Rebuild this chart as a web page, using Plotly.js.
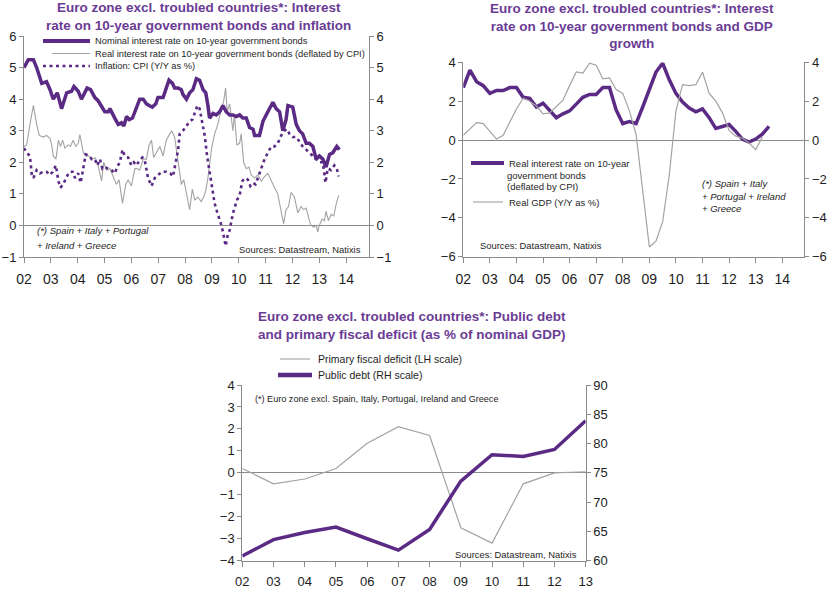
<!DOCTYPE html>
<html>
<head>
<meta charset="utf-8">
<script src="https://cdn.plot.ly/plotly-3.0.1.min.js"></script>
<style>html,body{margin:0;padding:0;background:#fff;}#chart{width:834px;height:610px;}</style>
</head>
<body>
<div id="chart"></div>
<script>
// ---------- Chart 1: nominal rate, real rate, inflation (monthly, decimal years) ----------
const c1NominalX = [2002.00,2002.16,2002.35,2002.47,2002.66,2002.84,2002.97,2003.09,2003.24,2003.40,2003.59,2003.77,2003.86,2004.02,2004.14,2004.35,2004.48,2004.64,2004.76,2004.89,2005.01,2005.14,2005.20,2005.38,2005.51,2005.63,2005.72,2005.82,2005.92,2006.04,2006.19,2006.31,2006.44,2006.56,2006.66,2006.78,2006.91,2006.99,2007.18,2007.30,2007.40,2007.53,2007.61,2007.74,2007.86,2007.92,2008.05,2008.17,2008.29,2008.42,2008.54,2008.67,2008.77,2008.85,2008.91,2009.04,2009.16,2009.29,2009.41,2009.53,2009.66,2009.78,2009.91,2010.03,2010.15,2010.28,2010.40,2010.53,2010.59,2010.77,2010.90,2011.02,2011.14,2011.27,2011.39,2011.52,2011.64,2011.76,2011.83,2012.01,2012.14,2012.26,2012.38,2012.51,2012.63,2012.76,2012.88,2013.00,2013.13,2013.25,2013.38,2013.50,2013.65,2013.75];
const c1NominalY = [5.0,5.25,5.25,5.0,4.5,4.55,4.3,4.0,4.2,3.7,4.2,4.25,4.4,4.25,4.0,4.35,4.3,4.05,3.95,3.75,3.6,3.6,3.7,3.4,3.2,3.25,3.15,3.45,3.35,3.4,3.7,4.0,4.0,3.85,3.8,3.75,3.85,4.05,4.05,4.35,4.6,4.5,4.35,4.35,4.3,4.15,4.0,4.2,4.3,4.65,4.6,4.3,4.2,3.8,3.4,3.55,3.5,3.6,3.8,3.6,3.5,3.5,3.45,3.5,3.4,3.4,3.1,3.05,2.85,2.85,3.3,3.5,3.7,3.9,3.7,3.6,3.0,3.35,3.8,3.75,3.2,3.0,2.9,2.6,2.6,2.5,2.1,2.2,2.1,1.85,2.25,2.3,2.5,2.4];

const c1RealX = [2002.00,2002.10,2002.22,2002.35,2002.47,2002.57,2002.72,2002.84,2002.97,2003.03,2003.09,2003.19,2003.28,2003.36,2003.44,2003.52,2003.65,2003.73,2003.83,2003.93,2004.02,2004.08,2004.21,2004.30,2004.43,2004.55,2004.64,2004.76,2004.89,2004.97,2005.07,2005.20,2005.32,2005.44,2005.54,2005.67,2005.79,2005.88,2006.00,2006.13,2006.21,2006.31,2006.44,2006.56,2006.66,2006.75,2006.83,2006.93,2007.06,2007.18,2007.30,2007.43,2007.50,2007.61,2007.68,2007.77,2007.86,2007.95,2008.05,2008.17,2008.27,2008.36,2008.48,2008.60,2008.69,2008.77,2008.85,2008.98,2009.10,2009.22,2009.35,2009.43,2009.51,2009.57,2009.66,2009.78,2009.84,2009.93,2010.03,2010.09,2010.18,2010.28,2010.38,2010.46,2010.59,2010.71,2010.84,2010.96,2011.08,2011.21,2011.33,2011.45,2011.58,2011.67,2011.76,2011.85,2011.95,2012.07,2012.20,2012.32,2012.41,2012.51,2012.63,2012.69,2012.79,2012.88,2012.94,2013.00,2013.10,2013.19,2013.25,2013.34,2013.44,2013.54,2013.62,2013.72];
const c1RealY = [2.5,2.55,3.2,3.8,3.2,2.85,2.8,2.85,2.75,2.55,2.2,2.1,2.7,2.5,2.7,2.45,2.55,2.5,2.7,2.5,2.6,2.88,2.3,2.2,2.2,2.1,2.15,1.9,1.4,2.0,1.75,1.8,1.55,1.3,1.45,0.7,1.3,1.45,1.25,1.8,1.8,1.75,2.1,2.1,2.55,2.7,2.15,2.3,2.5,2.2,2.7,2.9,3.0,2.8,2.4,1.8,1.3,1.45,1.0,0.5,1.15,0.8,0.9,0.75,0.9,1.1,1.5,2.4,2.9,3.2,3.7,3.9,4.35,3.6,3.85,3.0,3.5,2.55,2.6,2.9,2.0,1.8,1.85,1.6,1.5,1.6,1.4,1.55,1.65,1.4,1.2,1.0,0.4,0.05,0.5,0.6,1.05,0.9,0.4,0.6,0.5,0.55,0.15,0.0,-0.05,0.0,-0.2,0.0,0.2,0.15,0.45,0.15,0.35,0.3,0.65,0.95];

const c1CpiX = [2002.00,2002.10,2002.22,2002.29,2002.35,2002.47,2002.59,2002.72,2002.84,2002.97,2003.07,2003.19,2003.28,2003.36,2003.46,2003.59,2003.71,2003.81,2003.90,2004.02,2004.11,2004.21,2004.30,2004.43,2004.52,2004.64,2004.73,2004.83,2004.92,2005.01,2005.14,2005.26,2005.38,2005.47,2005.57,2005.67,2005.75,2005.88,2006.00,2006.09,2006.19,2006.29,2006.41,2006.50,2006.62,2006.75,2006.87,2006.99,2007.15,2007.30,2007.45,2007.55,2007.65,2007.74,2007.80,2007.92,2008.05,2008.17,2008.27,2008.36,2008.46,2008.54,2008.64,2008.73,2008.82,2008.91,2009.01,2009.10,2009.22,2009.32,2009.41,2009.51,2009.59,2009.66,2009.74,2009.82,2009.93,2010.03,2010.13,2010.22,2010.34,2010.43,2010.53,2010.62,2010.71,2010.84,2010.96,2011.08,2011.21,2011.33,2011.45,2011.58,2011.70,2011.79,2011.89,2012.01,2012.14,2012.26,2012.38,2012.51,2012.63,2012.76,2012.88,2013.00,2013.13,2013.23,2013.31,2013.44,2013.56,2013.65,2013.72];
const c1CpiY = [2.45,2.3,2.2,1.6,1.5,1.75,1.65,1.7,1.7,1.6,1.7,1.9,1.4,1.2,1.3,1.55,1.7,1.7,1.5,1.65,1.35,1.8,2.25,2.2,2.1,2.1,1.9,2.1,1.8,1.85,1.8,1.75,1.65,1.85,2.0,2.4,2.2,2.15,1.9,2.0,1.9,2.05,2.15,2.05,1.5,1.25,1.5,1.6,1.7,1.7,1.65,1.55,2.0,2.4,2.9,3.0,3.15,3.3,3.35,3.55,3.8,3.7,3.3,2.85,2.2,1.7,1.1,0.7,0.35,0.1,-0.2,-0.65,-0.3,-0.15,0.2,0.5,0.8,0.95,1.4,1.5,1.45,1.25,1.35,1.3,1.5,1.8,2.1,2.3,2.5,2.5,2.6,2.85,3.0,3.05,2.9,2.8,2.8,2.65,2.5,2.4,2.3,2.2,2.1,2.0,2.0,1.35,1.8,1.75,1.9,1.8,1.55];

// ---------- Chart 2: real interest rate and real GDP (quarterly) ----------
const c2Quarters = [2002.00,2002.25,2002.50,2002.75,2003.00,2003.25,2003.50,2003.75,2004.00,2004.25,2004.50,2004.75,2005.00,2005.25,2005.50,2005.75,2006.00,2006.25,2006.50,2006.75,2007.00,2007.25,2007.50,2007.75,2008.00,2008.25,2008.50,2008.75,2009.00,2009.25,2009.50,2009.75,2010.00,2010.25,2010.50,2010.75,2011.00,2011.25,2011.50,2011.75,2012.00,2012.25,2012.50,2012.75,2013.00,2013.25,2013.50];
const c2RealRate = [2.7,3.6,3.0,2.8,2.4,2.55,2.55,2.7,2.7,2.2,2.15,1.7,1.9,1.55,1.15,1.35,1.5,1.85,2.2,2.35,2.35,2.7,2.7,1.55,0.85,0.95,0.85,1.7,2.6,3.5,3.95,3.1,2.4,1.95,1.65,1.45,1.6,1.15,0.6,0.7,0.8,0.45,0.05,-0.1,0.05,0.3,0.7];
const c2RealGdp = [0.25,0.6,0.9,0.85,0.45,0.05,0.25,0.9,1.6,2.15,2.0,1.75,1.35,1.4,1.7,2.05,2.8,3.5,3.45,3.95,3.85,3.15,3.2,2.6,2.4,1.5,0.3,-2.5,-5.5,-5.2,-4.2,-1.8,1.5,2.85,2.8,2.85,3.5,2.4,2.0,1.4,0.5,0.2,0.1,-0.15,-0.5,0.15];

// ---------- Chart 3: public debt and primary fiscal deficit (annual) ----------
const c3Years = [2002,2003,2004,2005,2006,2007,2008,2009,2010,2011,2012,2013];
const c3PrimaryDeficit = [0.2,-0.5,-0.28,0.2,1.35,2.1,1.7,-2.5,-3.2,-0.5,0.0,0.05];
const c3PublicDebt = [60.8,63.6,64.8,65.75,63.75,61.8,65.35,73.6,78.1,77.8,79.0,83.9];

const yearTicks12 = [2002,2003,2004,2005,2006,2007,2008,2009,2010,2011,2012,2013,2014];
const yearLabels12 = ['02','03','04','05','06','07','08','09','10','11','12','13','14'];
const yearTicks11 = [2002,2003,2004,2005,2006,2007,2008,2009,2010,2011,2012,2013];
const yearLabels11 = ['02','03','04','05','06','07','08','09','10','11','12','13'];

// ---------- styling ----------
const W = 834, H = 610;
const px = x => x / W;
const py = y => 1 - y / H;
const PURPLE = '#5a2a84';
const TITLE = '#6a3c94';
const GREY = '#a3a3a3';
const AXIS = '#8a8a8a';
const TXT = '#1e1e1e';
const FONT = 'Liberation Sans, Arial, sans-serif';
const CPI_DASH = '3px,3.5px';

function xAxis(domain, range, anchor, tv, tt, fs) {
  return {domain, range, anchor, tickvals: tv, ticktext: tt, ticks: 'outside', ticklen: 5,
    tickcolor: AXIS, showline: true, linecolor: AXIS, linewidth: 1, showgrid: false, zeroline: false,
    tickfont: {family: FONT, size: fs, color: TXT}, ticklabelstandoff: 4, fixedrange: true};
}
function yAxis(domain, range, dtick, anchor, side, overlay, zl, fs) {
  const a = {range, dtick, anchor, side, ticks: 'outside', ticklen: 4, tickcolor: AXIS,
    showline: true, linecolor: AXIS, linewidth: 1, showgrid: false,
    zeroline: zl, zerolinecolor: AXIS, zerolinewidth: 1,
    tickfont: {family: FONT, size: fs, color: TXT}, fixedrange: true};
  if (overlay) a.overlaying = overlay; else a.domain = domain;
  return a;
}

const data = [
  {x: c1RealX, y: c1RealY, xaxis: 'x', yaxis: 'y', type: 'scatter', mode: 'lines',
   line: {color: GREY, width: 1.1}, name: 'Real interest rate on 10-year government bonds (deflated by CPI)'},
  {x: c1CpiX, y: c1CpiY, xaxis: 'x', yaxis: 'y2', type: 'scatter', mode: 'lines',
   line: {color: PURPLE, width: 2.6, dash: CPI_DASH}, name: 'Inflation: CPI (Y/Y as %)'},
  {x: c1NominalX, y: c1NominalY, xaxis: 'x', yaxis: 'y', type: 'scatter', mode: 'lines',
   line: {color: PURPLE, width: 3.5}, name: 'Nominal interest rate on 10-year government bonds'},

  {x: c2Quarters.slice(0, c2RealGdp.length), y: c2RealGdp, xaxis: 'x2', yaxis: 'y4', type: 'scatter', mode: 'lines',
   line: {color: GREY, width: 1.2}, name: 'Real GDP (Y/Y as %)'},
  {x: c2Quarters, y: c2RealRate, xaxis: 'x2', yaxis: 'y3', type: 'scatter', mode: 'lines',
   line: {color: PURPLE, width: 3.5}, name: 'Real interest rate on 10-year government bonds (deflated by CPI)'},

  {x: c3Years, y: c3PrimaryDeficit, xaxis: 'x3', yaxis: 'y5', type: 'scatter', mode: 'lines',
   line: {color: GREY, width: 1.2}, name: 'Primary fiscal deficit (LH scale)'},
  {x: c3Years, y: c3PublicDebt, xaxis: 'x3', yaxis: 'y6', type: 'scatter', mode: 'lines',
   line: {color: PURPLE, width: 3.5}, name: 'Public debt (RH scale)'}
];

const ann = (text, x, y, size, opts) => Object.assign({
  text, x: px(x), y: py(y), xref: 'paper', yref: 'paper', showarrow: false,
  xanchor: 'left', yanchor: 'middle', font: {family: FONT, size, color: TXT}
}, opts || {});

const annotations = [
  // titles
  ann('<b>Euro zone excl. troubled countries*: Interest<br>rate on 10-year government bonds and inflation</b>', 198, 17, 13.5, {xanchor: 'center', font: {family: FONT, size: 13.5, color: TITLE}}),
  ann('<b>Euro zone excl. troubled countries*: Interest<br>rate on 10-year government bonds and GDP<br>growth</b>', 632, 25.5, 13.5, {xanchor: 'center', font: {family: FONT, size: 13.5, color: TITLE}}),
  ann('<b>Euro zone excl. troubled countries*: Public debt<br>and primary fiscal deficit (as % of nominal GDP)</b>', 412, 325.5, 13.5, {xanchor: 'center', font: {family: FONT, size: 13.5, color: TITLE}}),
  // chart 1 legend
  ann('Nominal interest rate on 10-year government bonds', 93, 41, 9.3),
  ann('Real interest rate on 10-year government bonds (deflated by CPI)', 93, 53.5, 9.3),
  ann('Inflation: CPI (Y/Y as %)', 93, 66, 9.3),
  // chart 1 notes
  ann('<i>(*) Spain + Italy + Portugal</i>', 35, 231, 9.5),
  ann('<i>+ Ireland + Greece</i>', 35, 245, 9.5),
  ann('Sources: Datastream, Natixis', 363, 249, 9.4, {xanchor: 'right'}),
  // chart 2 legend
  ann('Real interest rate on 10-year', 507, 163, 9.5),
  ann('government bonds', 505, 175, 9.5),
  ann('(deflated by CPI)', 505, 187, 9.5),
  ann('Real GDP (Y/Y as %)', 507, 202, 9.5),
  // chart 2 notes
  ann('<i>(*) Spain + Italy</i>', 700, 183, 9.5),
  ann('<i>+ Portugal + Ireland</i>', 700, 196, 9.5),
  ann('<i>+ Greece</i>', 700, 209, 9.5),
  ann('Sources: Datastream, Natixis', 478, 245, 9.4),
  // chart 3 legend
  ann('Primary fiscal deficit (LH scale)', 316, 359, 10.5),
  ann('Public debt (RH scale)', 316, 375, 10.5),
  // chart 3 notes
  ann('(*) Euro zone excl. Spain, Italy, Portugal, Ireland and Greece', 253, 399, 9.1),
  ann('Sources: Datastream, Natixis', 579, 554, 9.4, {xanchor: 'right'})
];

const seg = (x0, x1, y, color, width, dash) => ({type: 'line', xref: 'paper', yref: 'paper',
  x0: px(x0), x1: px(x1), y0: py(y), y1: py(y), line: {color, width, dash: dash || 'solid'}});

const shapes = [
  seg(43, 90, 41, PURPLE, 4),
  seg(52, 90, 53.5, GREY, 1.1),
  seg(43, 90, 66, PURPLE, 2.6, CPI_DASH),
  seg(471, 504, 163, PURPLE, 4),
  seg(473, 503, 202, GREY, 1.1),
  seg(280, 310, 359, GREY, 1.1),
  seg(278, 312, 375, PURPLE, 4.5)
];

const layout = {
  width: W, height: H, margin: {l: 0, r: 0, t: 0, b: 0},
  paper_bgcolor: '#ffffff', plot_bgcolor: 'rgba(0,0,0,0)', showlegend: false,
  font: {family: FONT, color: TXT},
  xaxis: xAxis([px(24), px(369)], [2002, 2014.85], 'y', yearTicks12, yearLabels12, 14),
  yaxis: yAxis([py(257), py(36)], [-1, 6], 1, 'x', 'left', null, true, 13),
  yaxis2: yAxis(null, [-1, 6], 1, 'x', 'right', 'y', false, 13),
  xaxis2: xAxis([px(463.3), px(804.3)], [2002, 2014.83], 'y3', yearTicks12, yearLabels12, 14),
  yaxis3: yAxis([py(256.7), py(62.3)], [-6, 4], 2, 'x2', 'left', null, true, 13),
  yaxis4: yAxis(null, [-6, 4], 2, 'x2', 'right', 'y3', false, 13),
  xaxis3: xAxis([px(242.3), px(585.7)], [2002, 2013], 'y5', yearTicks11, yearLabels11, 13),
  yaxis5: yAxis([py(560.7), py(385)], [-4, 4], 1, 'x3', 'left', null, true, 13),
  yaxis6: yAxis(null, [60, 90], 5, 'x3', 'right', 'y5', false, 13),
  annotations, shapes
};

Plotly.newPlot('chart', data, layout, {displayModeBar: false, staticPlot: true});
</script>
</body>
</html>
